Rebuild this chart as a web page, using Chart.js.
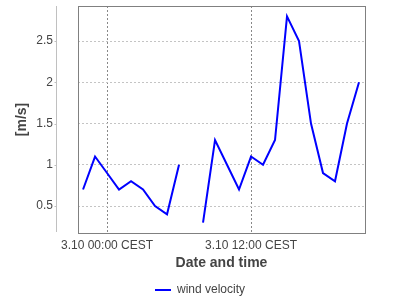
<!DOCTYPE html>
<html><head><meta charset="utf-8">
<script src="https://cdn.jsdelivr.net/npm/chart.js@4"></script>
<style>html,body{margin:0;padding:0;background:#fff}</style>
</head><body>
<canvas id="c" width="400" height="300"></canvas>
<script>
// Hours relative to 3.10 00:00 CEST
const hours = [-2,-1,0,1,2,3,4,5,6,7,8,9,10,11,12,13,14,15,16,17,18,19,20,21];
const windVelocity = [0.7,1.1,0.9,0.7,0.8,0.7,0.5,0.4,1.0,null,0.3,1.3,1.0,0.7,1.1,1.0,1.3,2.8,2.5,1.5,0.9,0.8,1.5,2.0];
const xTickValues = [0, 12];
const xTickLabels = ['3.10 00:00 CEST', '3.10 12:00 CEST'];
const yTickValues = [0.5, 1, 1.5, 2, 2.5];
const seriesName = 'wind velocity';

const FONT = 'Liberation Sans, Arial, sans-serif';

const framePlugin = {
  id: 'frame',
  afterLayout(chart) {
    // centre the legend on the whole canvas
    const lg = chart.legend;
    if (lg) { lg.left = 0; lg.right = chart.width; lg.width = chart.width; }
  },
  beforeDatasetsDraw(chart) {
    const a = chart.chartArea, ctx = chart.ctx;
    ctx.save();
    ctx.strokeStyle = '#808080';
    ctx.lineWidth = 1;
    ctx.strokeRect(Math.round(a.left) + 0.5, Math.round(a.top) + 0.5,
                   Math.round(a.right - a.left), Math.round(a.bottom - a.top));
    ctx.restore();
  },
  afterDraw(chart) {
    const a = chart.chartArea, ctx = chart.ctx, ys = chart.scales.y;
    const ax = Math.round(a.left) - 22 + 0.5;
    ctx.save();
    ctx.strokeStyle = '#c0c0c0';
    ctx.lineWidth = 1;
    ctx.beginPath();
    ctx.moveTo(ax, a.top);
    ctx.lineTo(ax, a.bottom - 1);
    yTickValues.forEach(v => {
      const py = Math.round(ys.getPixelForValue(v)) + 0.5;
      ctx.moveTo(ax - 2, py);
      ctx.lineTo(ax, py);
    });
    ctx.stroke();
    ctx.restore();
  }
};

new Chart(document.getElementById('c'), {
  type: 'line',
  data: {
    datasets: [{
      label: seriesName,
      data: hours.map((h, i) => ({x: h, y: windVelocity[i]})),
      borderColor: '#0000ff',
      backgroundColor: '#0000ff',
      borderWidth: 2,
      pointRadius: 0,
      tension: 0,
      spanGaps: false
    }]
  },
  options: {
    responsive: false,
    animation: false,
    devicePixelRatio: 1,
    layout: { padding: { left: 0, right: 35, top: 6, bottom: -6 } },
    plugins: {
      tooltip: { enabled: false },
      legend: {
        position: 'bottom',
        labels: {
          usePointStyle: true,
          pointStyle: 'line',
          pointStyleWidth: 16,
          color: '#444',
          font: { family: FONT, size: 12 },
          padding: 6
        }
      }
    },
    scales: {
      x: {
        type: 'linear',
        min: -2.42,
        max: 21.5,
        afterBuildTicks(scale) { scale.ticks = xTickValues.map(v => ({value: v})); },
        afterFit(scale) { scale.height = 45; },
        ticks: {
          callback: (v) => xTickLabels[xTickValues.indexOf(v)],
          color: '#444',
          font: { family: FONT, size: 12 },
          padding: 5,
          maxRotation: 0,
          autoSkip: false
        },
        grid: { color: '#888', drawTicks: false, lineWidth: 1 },
        border: { display: false, dash: [2, 2] },
        title: {
          display: true,
          text: 'Date and time',
          color: '#444',
          font: { family: FONT, size: 14, weight: 'bold' },
          padding: { top: 1, bottom: 6 }
        }
      },
      y: {
        min: 0.173,
        max: 2.925,
        afterBuildTicks(scale) { scale.ticks = yTickValues.map(v => ({value: v})); },
        afterFit(scale) { scale.width = 78; },
        ticks: {
          callback: (v) => String(v),
          color: '#444',
          font: { family: FONT, size: 12, lineHeight: 1 },
          padding: 0
        },
        grid: { color: '#c4c4c4', drawTicks: true, tickLength: 25, tickColor: 'rgba(0,0,0,0)', lineWidth: 1 },
        border: { display: false, dash: [2, 2] },
        title: {
          display: true,
          text: '[m/s]',
          color: '#444',
          font: { family: FONT, size: 14, weight: 'bold' },
          padding: { top: 14, bottom: 0 }
        }
      }
    }
  },
  plugins: [framePlugin]
});
</script>
</body></html>
